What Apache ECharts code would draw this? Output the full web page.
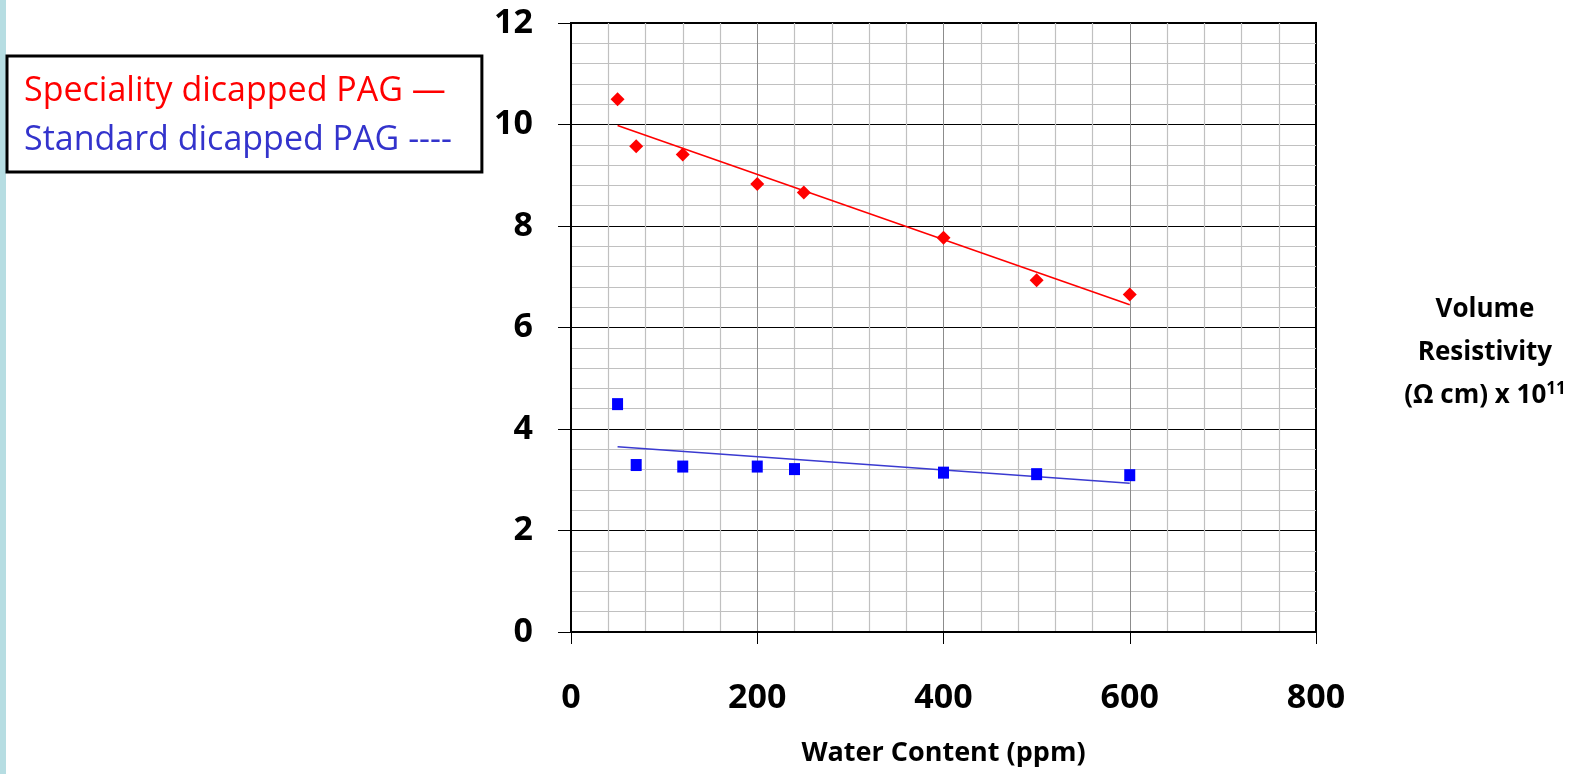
<!DOCTYPE html>
<html>
<head>
<meta charset="utf-8">
<script src="https://cdn.jsdelivr.net/npm/echarts@6/dist/echarts.min.js"></script>
<style>
  html, body { margin: 0; padding: 0; background: #fff; }
  #chart { width: 1579px; height: 774px; }
</style>
</head>
<body>
<div id="chart"></div>
<script>
// 数据: 含水量 (ppm) 与体积电阻率 (x 10^11 Ω cm)
var xTicks = [0, 200, 400, 600, 800];
var yTicks = [0, 2, 4, 6, 8, 10, 12];

var waterSpecial = [50, 70, 120, 200, 250, 400, 500, 600];
var resSpecial = [10.5, 9.57, 9.41, 8.83, 8.66, 7.77, 6.93, 6.65];
var waterStandard = [50, 70, 120, 200, 240, 400, 500, 600];
var resStandard = [4.49, 3.29, 3.26, 3.26, 3.21, 3.14, 3.11, 3.09];

// 趋势线端点
var trendX = [50, 600];
var trendSpecial = [9.98, 6.45];
var trendStandard = [3.65, 2.93];

var nameSpecial = 'Speciality dicapped PAG';
var nameStandard = 'Standard dicapped PAG';

function pairs(xs, ys) {
    return xs.map(function (x, i) { return [x, ys[i]]; });
}

var font = 'Open Sans';

$ = function (id) { return document.getElementById(id); };

setOption('chart', {
    backgroundColor: '#fff',
    animation: false,
    textStyle: { fontFamily: font },
    graphic: [{
        type: 'rect',
        left: 0, top: 0,
        shape: { width: 6, height: 774 },
        style: { fill: '#b6dde2' }
    }],
    title: {
        left: 1485, top: 288, textAlign: 'center', padding: 0,
        text: '{a|Volume}\n{a|Resistivity}\n{a|(Ω cm) x 10}{sup|11}',
        textStyle: {
            rich: {
                a: { fontFamily: font, fontWeight: 'bold', fontSize: 26, lineHeight: 43, color: '#000' },
                sup: { fontFamily: font, fontWeight: 'bold', fontSize: 17, lineHeight: 43, color: '#000', padding: [0, 0, 12, 0] }
            }
        }
    },
    legend: {
        orient: 'vertical',
        left: 7, top: 56,
        padding: [18, 30, 15, 12],
        itemGap: 15,
        icon: 'none',
        itemWidth: 0,
        borderColor: '#000',
        borderWidth: 3,
        formatter: function (name) {
            return name === nameSpecial ? name + ' —' : name + ' ----';
        },
        textStyle: { fontFamily: font, fontSize: 34 },
        data: [
            { name: nameSpecial, textStyle: { color: '#ff0000' } },
            { name: nameStandard, textStyle: { color: '#3333cc' } }
        ]
    },
    grid: {
        left: 571, right: 263, top: 23, bottom: 142,
        show: true, borderColor: '#000', borderWidth: 2
    },
    xAxis: {
        type: 'value',
        min: xTicks[0], max: xTicks[xTicks.length - 1], interval: 200,
        name: 'Water Content (ppm)',
        nameLocation: 'middle', nameGap: 108,
        nameTextStyle: { fontFamily: font, fontWeight: 'bold', fontSize: 27, color: '#000' },
        axisLine: { lineStyle: { color: '#000', width: 2 } },
        axisTick: { length: 12, lineStyle: { color: '#000', width: 1 } },
        axisLabel: { margin: 49, fontFamily: font, fontWeight: 'bold', fontSize: 34, color: '#000' },
        splitLine: { show: true, showMaxLine: false, lineStyle: { color: '#8c8c8c', width: 1 } },
        minorTick: { show: false, splitNumber: 5 },
        minorSplitLine: { show: true, lineStyle: { color: '#c0c0c0', width: 1.2 } }
    },
    yAxis: {
        type: 'value',
        min: yTicks[0], max: yTicks[yTicks.length - 1], interval: 2,
        axisLine: { show: true, lineStyle: { color: '#000', width: 2 } },
        axisTick: { show: true, length: 13, lineStyle: { color: '#000', width: 1 } },
        axisLabel: { margin: 38, fontFamily: font, fontWeight: 'bold', fontSize: 34, color: '#000' },
        splitLine: { show: true, lineStyle: { color: '#000', width: 1 } },
        minorTick: { show: false, splitNumber: 5 },
        minorSplitLine: { show: true, lineStyle: { color: '#c0c0c0', width: 1.2 } }
    },
    series: [
        {
            name: nameSpecial,
            type: 'scatter',
            symbol: 'diamond',
            symbolSize: 14,
            itemStyle: { color: '#ff0000', opacity: 1 },
            data: pairs(waterSpecial, resSpecial),
            z: 4
        },
        {
            name: nameStandard,
            type: 'scatter',
            symbol: 'rect',
            symbolSize: [11, 12],
            itemStyle: { color: '#0000ff', opacity: 1 },
            data: pairs(waterStandard, resStandard),
            z: 4
        },
        {
            name: 'trendSpecial',
            type: 'line',
            symbol: 'none',
            lineStyle: { color: '#ff0000', width: 1.6 },
            data: pairs(trendX, trendSpecial),
            z: 3
        },
        {
            name: 'trendStandard',
            type: 'line',
            symbol: 'none',
            lineStyle: { color: '#3a3ad0', width: 1.6 },
            data: pairs(trendX, trendStandard),
            z: 3
        }
    ]
});

function setOption(ident, opt) {
    // 初始化echarts实例并设置配置项
    var myChart = echarts.init($(ident));
    myChart.setOption(opt);
}
</script>
</body>
</html>
